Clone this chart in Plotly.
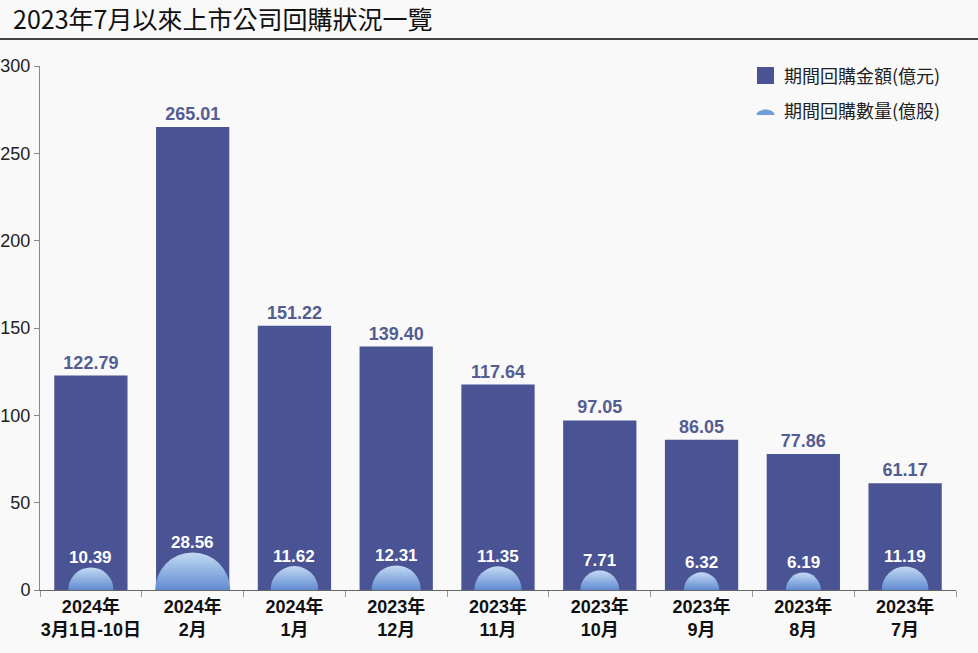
import plotly.graph_objects as go
import math

categories = ["2024年<br>3月1日-10日", "2024年<br>2月", "2024年<br>1月", "2023年<br>12月",
              "2023年<br>11月", "2023年<br>10月", "2023年<br>9月", "2023年<br>8月", "2023年<br>7月"]
amount = [122.79, 265.01, 151.22, 139.40, 117.64, 97.05, 86.05, 77.86, 61.17]
quantity = [10.39, 28.56, 11.62, 12.31, 11.35, 7.71, 6.32, 6.19, 11.19]
y_ticks = [0, 50, 100, 150, 200, 250, 300]

BAR = "#4a5494"
NUM = "Liberation Sans, Arial, Noto Sans CJK TC, sans-serif"
CJK = "Noto Sans CJK TC, Liberation Sans, sans-serif"

max_d = 75.0
sizeref = 2.0 * max(quantity) / max_d ** 2

fig = go.Figure()
fig.add_trace(go.Bar(
    x=categories, y=amount, marker=dict(color=BAR, line=dict(width=0)),
    text=[f"{v:.2f}" for v in amount], textposition="outside",
    textfont=dict(family=NUM, size=18, color="#545d92", weight="bold"),
    cliponaxis=False, showlegend=False, hoverinfo="skip"))

fig.add_trace(go.Scatter(
    x=categories, y=[0] * len(quantity), mode="markers",
    marker=dict(size=quantity, sizemode="area", sizeref=sizeref, opacity=1,
                color="#c2daf2",
                gradient=dict(type="vertical", color="#003cb0"),
                line=dict(width=0)),
    cliponaxis=True, showlegend=False, hoverinfo="skip"))

for c, q in zip(categories, quantity):
    r = max_d * math.sqrt(q / max(quantity)) / 2
    fig.add_annotation(x=c, y=0, text=f"<b>{q:.2f}</b>", showarrow=False,
                       yshift=r + 10, yanchor="middle",
                       font=dict(family=NUM, size=17, color="white"))

W, H = 978, 653
ml, mr, mt, mb = 40, 22, 66, 63
pw, ph = W - ml - mr, H - mt - mb

def px_x(px):
    return (px - ml) / pw

def px_y(py):
    return (H - mb - py) / ph

# title
fig.add_annotation(xref="paper", yref="paper", x=px_x(11), y=px_y(18),
                   xanchor="left", yanchor="middle", showarrow=False,
                   text="2023年7月以來上市公司回購狀況一覽",
                   font=dict(family=CJK, size=25, color="#111"))
fig.add_shape(type="line", xref="paper", yref="paper", x0=px_x(0), x1=px_x(W),
              y0=px_y(39), y1=px_y(39), line=dict(color="#444", width=2))

# legend (manual)
fig.add_shape(type="rect", xref="paper", yref="paper",
              x0=px_x(757), x1=px_x(774), y0=px_y(67), y1=px_y(84),
              fillcolor=BAR, line=dict(width=0))
cx, cy, rr = 765.5, 115, 9
k = 0.5523 * rr
path = (f"M {px_x(cx-rr)},{px_y(cy)} "
        f"C {px_x(cx-rr)},{px_y(cy-k*0.6)} {px_x(cx-k)},{px_y(cy-rr*0.6)} {px_x(cx)},{px_y(cy-rr*0.6)} "
        f"C {px_x(cx+k)},{px_y(cy-rr*0.6)} {px_x(cx+rr)},{px_y(cy-k*0.6)} {px_x(cx+rr)},{px_y(cy)} Z")
fig.add_shape(type="path", xref="paper", yref="paper", path=path,
              fillcolor="#6f9fd6", line=dict(width=0))
fig.add_annotation(xref="paper", yref="paper", x=px_x(782), y=px_y(75),
                   xanchor="left", yanchor="middle", showarrow=False,
                   text="期間回購金額(億元)", font=dict(family=CJK, size=18, color="#222"))
fig.add_annotation(xref="paper", yref="paper", x=px_x(782), y=px_y(110),
                   xanchor="left", yanchor="middle", showarrow=False,
                   text="期間回購數量(億股)", font=dict(family=CJK, size=18, color="#222"))

fig.update_layout(
    width=W, height=H,
    margin=dict(l=ml, r=mr, t=mt, b=mb, pad=0, autoexpand=False),
    paper_bgcolor="#f9f9f9", plot_bgcolor="#f9f9f9",
    bargap=0.28,
    xaxis=dict(type="category", range=[-0.5, len(categories) - 0.5],
               showline=True, linecolor="#666", linewidth=1,
               ticks="outside", tickson="boundaries", ticklen=6, tickcolor="#999",
               tickangle=0, automargin=False,
               tickfont=dict(family=NUM, size=18, color="#111", weight="bold"),
               showgrid=False, zeroline=False, fixedrange=True),
    yaxis=dict(range=[0, 300], tickvals=y_ticks, showline=True, linecolor="#888",
               linewidth=1, ticks="outside", ticklen=5, tickcolor="#888",
               automargin=False,
               tickfont=dict(family=NUM, size=18, color="#222"),
               showgrid=False, zeroline=False, fixedrange=True),
)

fig.write_html("out.html", config={"displayModeBar": False},
               post_script="document.body.style.margin='0px';")
